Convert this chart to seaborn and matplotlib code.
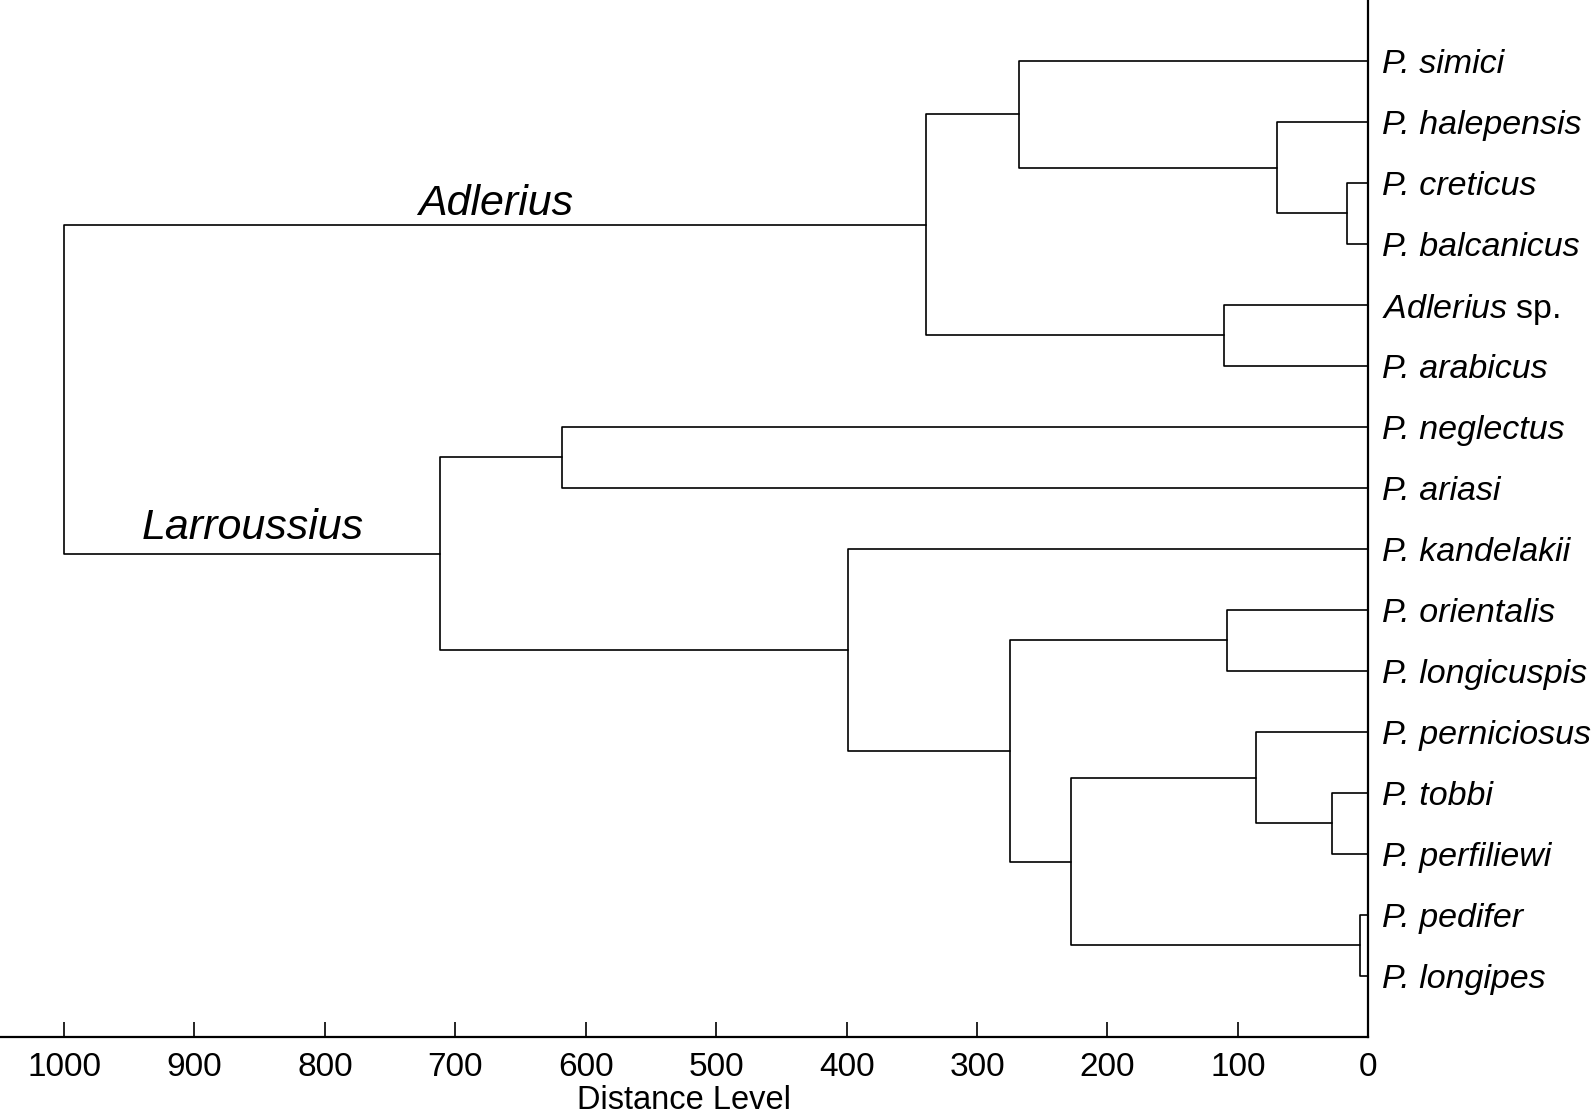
import numpy as np
import pandas as pd
import seaborn as sns
import matplotlib
matplotlib.use("Agg")
import matplotlib.pyplot as plt

# leaves, top to bottom
leaves = ["P. simici", "P. halepensis", "P. creticus", "P. balcanicus",
          "Adlerius sp.", "P. arabicus", "P. neglectus", "P. ariasi",
          "P. kandelakii", "P. orientalis", "P. longicuspis", "P. perniciosus",
          "P. tobbi", "P. perfiliewi", "P. pedifer", "P. longipes"]

# merges (ids 0-15 = leaves, 16+ = merges in this order)
merge_left = [14, 2, 12, 1, 11, 9, 4, 20, 0, 21, 24, 8, 6, 28, 26]
merge_right = [15, 3, 13, 17, 18, 10, 5, 16, 19, 23, 22, 25, 7, 27, 29]
merge_height = [6, 16, 28, 70, 86, 108, 111, 228, 268, 275, 339, 399, 618, 712, 1000]

xticks = [1000, 900, 800, 700, 600, 500, 400, 300, 200, 100, 0]

sns.set_theme(style="white")
plt.rcParams["font.family"] = ["Liberation Sans", "DejaVu Sans"]
plt.rcParams["mathtext.fontset"] = "custom"
plt.rcParams["mathtext.it"] = "Liberation Sans:italic"
plt.rcParams["mathtext.rm"] = "Liberation Sans"
plt.rcParams["text.color"] = "black"
plt.rcParams["axes.labelcolor"] = "black"

# node positions
n = len(leaves)
ypos = {i: i + 1.0 for i in range(n)}
height = {i: 0.0 for i in range(n)}
segs = []
for k, (a, b, h) in enumerate(zip(merge_left, merge_right, merge_height)):
    node = n + k
    ypos[node] = (ypos[a] + ypos[b]) / 2
    height[node] = h
    segs.append([(height[a], ypos[a]), (h, ypos[a]), (h, ypos[b]), (height[b], ypos[b])])

rows = []
for s, pts in enumerate(segs):
    for j, (x, y) in enumerate(pts):
        rows.append({"seg": s, "order": j, "dist": x, "pos": y})
df = pd.DataFrame(rows)

fig = plt.figure(figsize=(15.94, 11.18), dpi=100)
ax = fig.add_axes([0.0, 0.0725, 0.8584, 0.9275])
sns.lineplot(data=df, x="dist", y="pos", units="seg", estimator=None, sort=False,
             color="black", linewidth=1.2, ax=ax)

ax.set_xlim(1049.1, 0)
ax.set_ylim(17, 0)
ax.set_xticks(xticks)
ax.set_xticklabels([str(t) for t in xticks], fontsize=24)
ax.tick_params(axis="x", bottom=True, direction="in", length=11, width=1.2, pad=11,
               colors="black")
ax.set_xlabel("Distance Level", fontsize=23.5, labelpad=1)

ax.yaxis.tick_right()
ax.set_yticks(range(1, n + 1))
labels = [r"$\mathit{Adlerius}$ sp." if l == "Adlerius sp." else l for l in leaves]
ax.set_yticklabels(labels, fontsize=24.5)
for t, l in zip(ax.get_yticklabels(), leaves):
    if l != "Adlerius sp.":
        t.set_fontstyle("italic")
ax.tick_params(axis="y", length=0, pad=10, colors="black")
ax.set_ylabel("")

for side in ["top", "left"]:
    ax.spines[side].set_visible(False)
for side in ["bottom", "right"]:
    ax.spines[side].set_color("black")
    ax.spines[side].set_linewidth(1.6)

ax.text(669, 3.52, "Adlerius", fontsize=31, style="italic", ha="center", va="baseline")
ax.text(855, 8.83, "Larroussius", fontsize=31, style="italic", ha="center", va="baseline")

fig.savefig("out.png", dpi=100, facecolor="white")
